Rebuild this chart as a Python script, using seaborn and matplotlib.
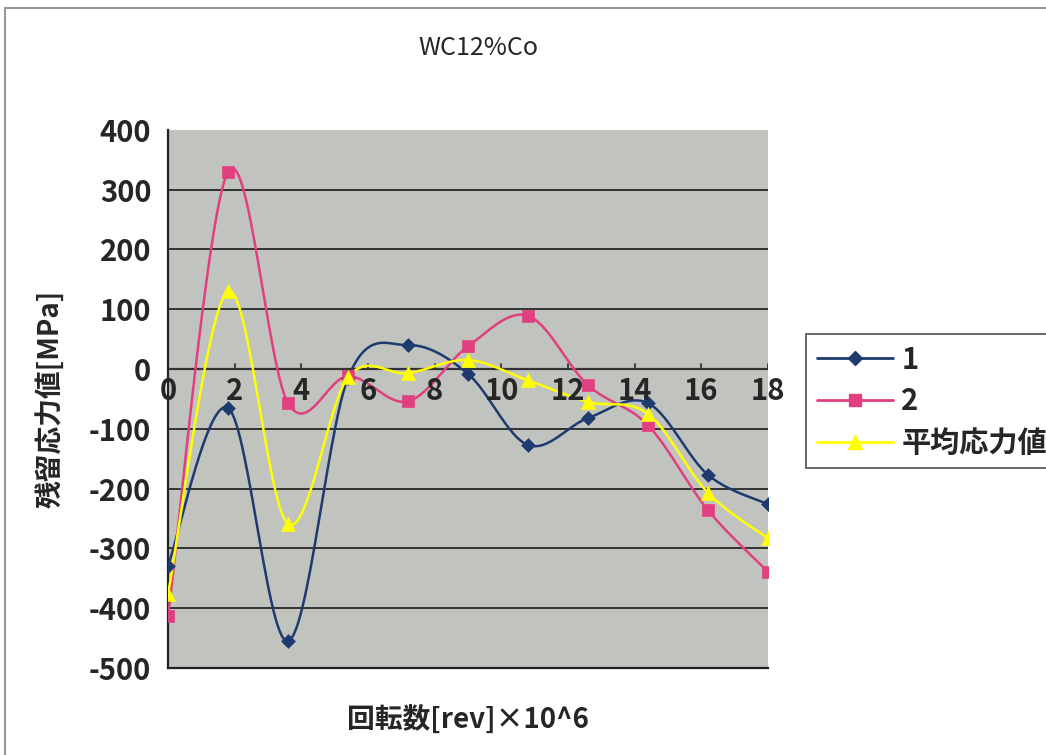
import numpy as np
import pandas as pd
import matplotlib
matplotlib.use('Agg')
import matplotlib.pyplot as plt
import seaborn as sns

# Data
revs = [0, 1.8, 3.6, 5.4, 7.2, 9.0, 10.8, 12.6, 14.4, 16.2, 18.0]
stress_1 = [-329, -65, -455, -15, 40, -8, -127, -82, -57, -177, -226]
stress_2 = [-413, 330, -57, -12, -54, 38, 89, -27, -94, -236, -339]
stress_avg = [-376, 130, -259, -14, -7, 15, -19, -55, -75, -207, -283]

series_names = ['1', '2', '平均応力値']
series_values = [stress_1, stress_2, stress_avg]
colors = ['#1F3A6E', '#E0407F', '#FFFF00']
markers = ['D', 's', '^']
marker_sizes = [7, 8, 10]


def smooth(x, y, n=30):
    # Excel-style smoothed line (Catmull-Rom Bezier segments)
    x = np.asarray(x, float)
    y = np.asarray(y, float)
    px = np.concatenate([[x[0]], x, [x[-1]]])
    py = np.concatenate([[y[0]], y, [y[-1]]])
    xs, ys = [], []
    t = np.linspace(0, 1, n)
    for i in range(1, len(px) - 2):
        p0 = np.array([px[i - 1], py[i - 1]])
        p1 = np.array([px[i], py[i]])
        p2 = np.array([px[i + 1], py[i + 1]])
        p3 = np.array([px[i + 2], py[i + 2]])
        c1 = p1 + (p2 - p0) / 6
        c2 = p2 - (p3 - p1) / 6
        b = ((1 - t) ** 3)[:, None] * p1 + (3 * (1 - t) ** 2 * t)[:, None] * c1 \
            + (3 * (1 - t) * t ** 2)[:, None] * c2 + (t ** 3)[:, None] * p2
        xs.extend(b[:, 0])
        ys.extend(b[:, 1])
    return np.array(xs), np.array(ys)


sns.set_style('white')
plt.rcParams['font.family'] = ['Noto Sans CJK JP', 'DejaVu Sans']
plt.rcParams['axes.unicode_minus'] = False

fig = plt.figure(figsize=(10.46, 7.55), dpi=100)
ax = fig.add_axes([0.1606, 0.1152, 0.5736, 0.7128])
ax.set_facecolor('#C1C3BF')

# horizontal gridlines
for yv in range(-400, 400, 100):
    ax.axhline(yv, color='#333333', lw=1.4, zorder=1)

for name, vals, c, m, ms in zip(series_names, series_values, colors, markers, marker_sizes):
    sx, sy = smooth(revs, vals)
    df = pd.DataFrame({'x': sx, 'y': sy})
    sns.lineplot(data=df, x='x', y='y', sort=False, color=c, lw=1.8, ax=ax, zorder=3)
    pts = pd.DataFrame({'x': revs, 'y': vals})
    sns.scatterplot(data=pts, x='x', y='y', marker=m, s=ms ** 2, color=c,
                    edgecolor=c, linewidth=0.5, ax=ax, zorder=4)

ax.set_xlim(0, 18)
ax.set_ylim(-500, 400)
ax.set_yticks(range(-500, 401, 100))
ax.set_yticklabels([str(v) for v in range(-500, 401, 100)], fontsize=21, fontweight='bold')
ax.set_xticks([])
ax.tick_params(axis='y', length=0, pad=12)

# x axis crosses at y = 0, labels below the line
ax.axhline(0, color='#333333', lw=1.6, zorder=2)
for xv in range(0, 19, 2):
    ax.plot([xv, xv], [0, 9], color='#333333', lw=1.3, zorder=2)
    ax.text(xv, -12, str(xv), ha='center', va='top', fontsize=21, fontweight='bold', zorder=5)

for s in ['top', 'right']:
    ax.spines[s].set_visible(False)
ax.spines['left'].set_color('#222222')
ax.spines['left'].set_linewidth(1.6)
ax.spines['bottom'].set_color('#222222')
ax.spines['bottom'].set_linewidth(1.6)

ax.set_xlabel('回転数[rev]×10^6', fontsize=20, fontweight='bold', labelpad=27)
ax.set_ylabel('残留応力値[MPa]', fontsize=20, fontweight='bold', labelpad=18)
fig.text(0.457, 0.937, 'WC12%Co', ha='center', va='center', fontsize=18)

handles = [plt.Line2D([0], [0], color=c, marker=m, markersize=ms, lw=2)
           for c, m, ms in zip(colors, markers, marker_sizes)]
leg = fig.legend(handles, series_names, loc='upper left', bbox_to_anchor=(0.771, 0.557),
                 prop={'size': 21, 'weight': 'bold'}, frameon=True, fancybox=False,
                 edgecolor='#333333', handlelength=2.6, borderpad=0.35, labelspacing=0.4,
                 handletextpad=0.3, borderaxespad=0)
leg.get_frame().set_linewidth(1.3)

# outer chart border
fig.patches.append(plt.Rectangle((0.005, -0.01), 1.2, 0.999, transform=fig.transFigure,
                                 fill=False, edgecolor='#999999', lw=1.5))

fig.savefig('out.png', dpi=100)
